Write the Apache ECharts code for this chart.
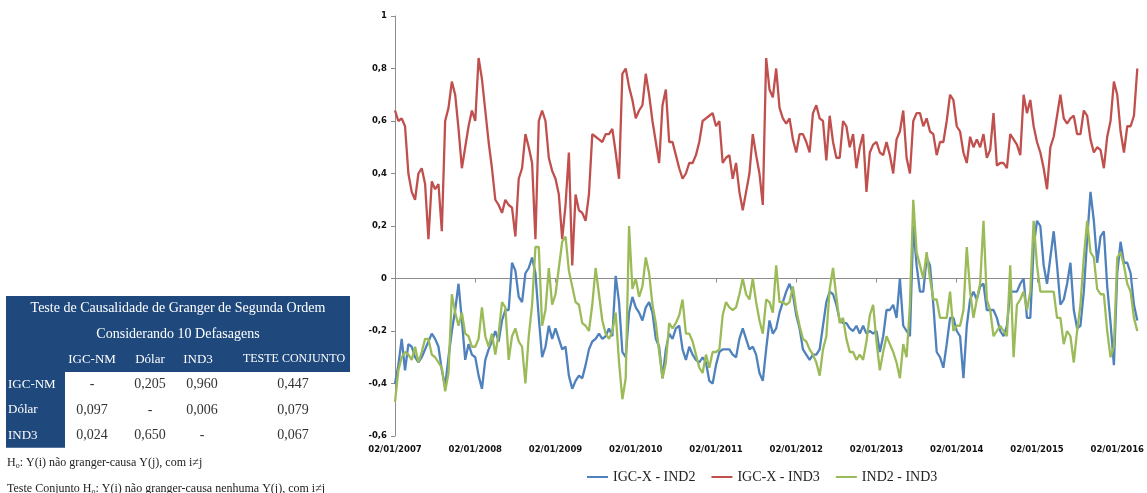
<!DOCTYPE html>
<html><head><meta charset="utf-8">
<script src="https://cdn.jsdelivr.net/npm/echarts@6/dist/echarts.min.js"></script>
<style>html,body{margin:0;padding:0;background:#fff}#c{width:1147px;height:493px}</style>
</head><body><div id="c"></div>
<script>
// ---- data ----
const tickLabels = ['02/01/2007','02/01/2008','02/01/2009','02/01/2010','02/01/2011','02/01/2012','02/01/2013','02/01/2014','02/01/2015','02/01/2016'];
const pointsPerYear = 24; // semi-monthly readings from the picture
const seriesNames = ['IGC-X - IND2', 'IGC-X - IND3', 'IND2 - IND3'];

const igcxInd2 = [
-0.40,-0.33,-0.23,-0.35,-0.25,-0.26,-0.30,-0.32,-0.30,-0.27,
-0.24,-0.21,-0.23,-0.26,-0.35,-0.41,-0.30,-0.20,-0.12,-0.02,
-0.16,-0.31,-0.25,-0.29,-0.30,-0.37,-0.42,-0.31,-0.27,-0.24,
-0.20,-0.24,-0.16,-0.12,-0.12,0.06,0.03,-0.07,-0.09,0.02,
0.04,0.08,0.02,-0.15,-0.30,-0.26,-0.18,-0.23,-0.19,-0.23,
-0.27,-0.26,-0.37,-0.42,-0.39,-0.37,-0.38,-0.33,-0.27,-0.24,
-0.23,-0.21,-0.23,-0.22,-0.19,-0.22,0.01,-0.09,-0.28,-0.30,
-0.13,-0.07,-0.11,-0.13,-0.16,-0.11,-0.09,-0.13,-0.23,-0.26,
-0.38,-0.27,-0.21,-0.23,-0.19,-0.18,-0.27,-0.31,-0.26,-0.29,
-0.31,-0.32,-0.30,-0.32,-0.39,-0.40,-0.33,-0.28,-0.27,-0.27,
-0.27,-0.29,-0.30,-0.23,-0.19,-0.23,-0.27,-0.26,-0.29,-0.36,
-0.39,-0.27,-0.16,-0.21,-0.19,-0.13,-0.09,-0.05,-0.02,-0.06,
-0.14,-0.19,-0.27,-0.29,-0.31,-0.29,-0.29,-0.27,-0.18,-0.09,
-0.05,-0.06,-0.10,-0.16,-0.17,-0.17,-0.19,-0.20,-0.18,-0.21,
-0.18,-0.21,-0.20,-0.21,-0.20,-0.28,-0.22,-0.12,-0.12,-0.10,
-0.15,0.00,-0.18,-0.20,-0.22,0.20,0.05,-0.05,-0.05,0.08,
0.05,-0.10,-0.28,-0.30,-0.34,-0.25,-0.15,-0.15,-0.20,-0.22,
-0.38,-0.18,-0.08,-0.05,-0.08,-0.03,-0.02,-0.12,-0.12,-0.12,
-0.15,-0.20,-0.22,-0.18,-0.05,-0.05,-0.05,-0.02,0.00,-0.15,
-0.15,0.12,0.22,0.20,0.05,-0.02,0.08,0.18,0.05,-0.10,
-0.08,-0.02,0.06,-0.12,-0.19,-0.18,-0.05,0.15,0.33,0.22,
0.06,0.16,0.18,-0.03,-0.17,-0.33,0.02,0.14,0.06,0.06,
0.02,-0.10,-0.16
];

const igcxInd3 = [
0.64,0.60,0.61,0.58,0.40,0.33,0.30,0.40,0.42,0.36,
0.15,0.37,0.34,0.36,0.18,0.60,0.65,0.75,0.70,0.57,
0.42,0.50,0.58,0.64,0.60,0.84,0.76,0.64,0.52,0.42,
0.30,0.28,0.25,0.30,0.28,0.27,0.16,0.38,0.42,0.55,
0.50,0.44,0.15,0.60,0.64,0.60,0.46,0.41,0.38,0.32,
0.15,0.28,0.48,0.05,0.32,0.26,0.25,0.22,0.32,0.55,
0.54,0.53,0.52,0.55,0.55,0.57,0.48,0.38,0.78,0.80,
0.73,0.68,0.61,0.64,0.66,0.78,0.70,0.60,0.52,0.44,
0.66,0.72,0.52,0.52,0.47,0.42,0.38,0.40,0.44,0.44,
0.47,0.52,0.60,0.61,0.62,0.63,0.58,0.60,0.44,0.46,
0.47,0.38,0.44,0.33,0.26,0.33,0.40,0.55,0.47,0.40,
0.28,0.84,0.72,0.69,0.80,0.65,0.61,0.59,0.61,0.53,
0.48,0.55,0.55,0.52,0.48,0.63,0.66,0.61,0.60,0.45,
0.62,0.52,0.46,0.46,0.60,0.58,0.50,0.55,0.42,0.50,
0.55,0.33,0.48,0.51,0.52,0.48,0.47,0.52,0.47,0.40,
0.53,0.56,0.64,0.46,0.40,0.60,0.63,0.63,0.58,0.61,
0.56,0.55,0.47,0.52,0.52,0.60,0.70,0.68,0.58,0.56,
0.48,0.44,0.54,0.50,0.53,0.50,0.55,0.46,0.49,0.63,
0.43,0.44,0.44,0.42,0.55,0.53,0.51,0.47,0.70,0.63,
0.68,0.58,0.52,0.48,0.42,0.34,0.50,0.54,0.62,0.70,
0.61,0.59,0.61,0.62,0.55,0.55,0.64,0.62,0.53,0.48,
0.50,0.49,0.42,0.54,0.60,0.75,0.70,0.56,0.48,0.58,
0.58,0.62,0.80
];

const ind2Ind3 = [
-0.47,-0.35,-0.30,-0.28,-0.29,-0.31,-0.26,-0.32,-0.28,-0.23,
-0.23,-0.29,-0.30,-0.32,-0.34,-0.43,-0.36,-0.06,-0.13,-0.18,
-0.13,-0.21,-0.22,-0.26,-0.26,-0.23,-0.11,-0.22,-0.26,-0.21,
-0.29,-0.21,-0.09,-0.11,-0.31,-0.22,-0.19,-0.24,-0.26,-0.40,
-0.22,-0.10,0.12,0.12,-0.18,-0.12,0.04,-0.10,-0.06,0.04,
0.14,0.16,0.03,-0.03,-0.09,-0.10,-0.17,-0.18,-0.20,-0.10,
0.04,-0.06,-0.16,-0.21,-0.23,-0.20,-0.13,-0.32,-0.46,-0.38,
0.20,-0.04,0.00,-0.07,-0.03,0.08,0.02,-0.10,-0.17,-0.28,
-0.38,-0.32,-0.17,-0.19,-0.17,-0.14,-0.08,-0.21,-0.21,-0.24,
-0.29,-0.34,-0.36,-0.29,-0.34,-0.28,-0.28,-0.27,-0.14,-0.09,
-0.11,-0.12,-0.11,-0.06,0.00,-0.06,-0.08,0.00,-0.09,-0.16,
-0.21,-0.08,-0.09,-0.13,0.05,-0.09,-0.09,-0.10,-0.09,-0.03,
-0.12,-0.18,-0.23,-0.24,-0.27,-0.29,-0.32,-0.37,-0.27,-0.22,
-0.04,0.04,-0.07,-0.17,-0.15,-0.23,-0.28,-0.28,-0.31,-0.29,
-0.31,-0.24,-0.14,-0.10,-0.24,-0.35,-0.28,-0.22,-0.25,-0.28,
-0.32,-0.38,-0.25,-0.30,-0.10,0.30,0.10,0.05,0.00,0.10,
0.00,-0.08,-0.08,-0.15,-0.15,-0.15,-0.05,-0.20,-0.18,-0.18,
-0.12,0.12,-0.05,-0.15,-0.08,-0.02,0.22,-0.08,-0.12,-0.22,
-0.20,-0.18,-0.20,-0.22,0.05,-0.30,-0.10,-0.08,-0.05,-0.12,
-0.05,0.22,0.05,-0.05,-0.05,-0.05,-0.05,-0.05,-0.15,-0.15,
-0.25,-0.20,-0.22,-0.32,-0.20,-0.10,0.08,0.22,0.10,0.08,
-0.04,-0.06,-0.06,-0.20,-0.30,-0.26,0.08,0.10,0.05,-0.02,
-0.05,-0.15,-0.20
];

const tableTitle = ['Teste de Causalidade de Granger de Segunda Ordem', 'Considerando 10 Defasagens'];
const tableHeader = ['IGC-NM', 'Dólar', 'IND3', 'TESTE CONJUNTO'];
const tableRows = [
  ['IGC-NM', '-', '0,205', '0,960', '0,447'],
  ['Dólar', '0,097', '-', '0,006', '0,079'],
  ['IND3', '0,024', '0,650', '-', '0,067']
];
const footnotes = [
  ['', ': Y(i) não granger-causa Y(j), com i≠j'],
  ['Teste Conjunto ', ': Y(i) não granger-causa nenhuma Y(j), com i≠j']
];

// ---- styles / layout ----
const colors = ['#4F81BD', '#C0504D', '#9BBB59'];
const navy = '#1F497D';
const serif = '"Liberation Serif", "DejaVu Serif", serif';
const tbl = { x: 6, y: 296, w: 344, rowH: 25.3, firstColW: 59 };
const headCols = [92, 150, 198, 294];
const headSizes = [13, 13, 13, 12];
const valCols = [92, 150, 202, 293];

const graphic = [];
graphic.push({ type: 'rect', shape: { x: tbl.x, y: tbl.y, width: tbl.w, height: tbl.rowH * 3 }, style: { fill: navy } });
graphic.push({ type: 'rect', shape: { x: tbl.x, y: tbl.y + tbl.rowH * 3, width: tbl.firstColW, height: tbl.rowH * 3 }, style: { fill: navy } });
tableTitle.forEach((t, k) => {
  graphic.push({ type: 'text', x: tbl.x + tbl.w / 2, y: tbl.y + tbl.rowH * (k + 0.5),
    style: { text: t, fill: '#fff', font: '14px ' + serif, align: 'center', verticalAlign: 'middle' } });
});
tableHeader.forEach((t, k) => {
  graphic.push({ type: 'text', x: headCols[k], y: tbl.y + tbl.rowH * 2.5,
    style: { text: t, fill: '#fff', font: headSizes[k] + 'px ' + serif, align: 'center', verticalAlign: 'middle' } });
});
tableRows.forEach((row, r) => {
  const cy = tbl.y + tbl.rowH * (3.5 + r);
  graphic.push({ type: 'text', x: tbl.x + 2, y: cy,
    style: { text: row[0], fill: '#fff', font: '13px ' + serif, align: 'left', verticalAlign: 'middle' } });
  row.slice(1).forEach((v, c) => {
    graphic.push({ type: 'text', x: valCols[c], y: cy,
      style: { text: v, fill: '#333', font: '14px ' + serif, align: 'center', verticalAlign: 'middle' } });
  });
});
footnotes.forEach((f, k) => {
  graphic.push({ type: 'text', x: 7, y: [463, 489][k],
    style: {
      text: '{a|' + f[0] + 'H}{s|o}{a|' + f[1] + '}',
      align: 'left', verticalAlign: 'middle',
      rich: {
        a: { fontFamily: serif, fontSize: 12, fill: '#222', color: '#222', lineHeight: 14 },
        s: { fontFamily: serif, fontSize: 8, fill: '#222', color: '#222', lineHeight: 14, padding: [5, 0, 0, 0] }
      }
    } });
});

const lastIdx = igcxInd3.length - 1;
const tickValues = tickLabels.map((_, k) => k * pointsPerYear);
const dataOf = arr => arr.map((v, i) => [i, v]);
const fmtNum = v => { const r = Math.round(v * 10) / 10; return String(r).replace('.', ','); };

const chart = echarts.init(document.getElementById('c'), null, { renderer: 'canvas' });
chart.setOption({
  animation: false,
  backgroundColor: '#fff',
  grid: { left: 395, right: 7, top: 16, height: 420 },
  legend: {
    data: seriesNames, left: 582, top: 465, icon: 'rect', itemWidth: 21, itemHeight: 2, itemGap: 16,
    textStyle: { fontFamily: serif, fontSize: 14, color: '#222' }
  },
  xAxis: [
    {
      type: 'value', min: 0, max: lastIdx, position: 'bottom',
      axisLine: { show: false, onZero: false }, axisTick: { show: false }, splitLine: { show: false },
      axisLabel: {
        customValues: tickValues, margin: 9,
        formatter: v => tickLabels[Math.round(v / pointsPerYear)] || '',
        fontFamily: '"DejaVu Sans", sans-serif', fontWeight: 'bold', fontSize: 8.5, color: '#111'
      }
    },
    {
      type: 'value', min: 0, max: lastIdx, position: 'bottom',
      axisLine: { show: true, onZero: true, lineStyle: { color: '#8c8c8c', width: 1 } },
      axisTick: { show: true, customValues: tickValues, length: 4, lineStyle: { color: '#8c8c8c' } },
      axisLabel: { show: false }, splitLine: { show: false }
    }
  ],
  yAxis: {
    type: 'value', min: -0.6, max: 1, interval: 0.2,
    axisLine: { show: true, lineStyle: { color: '#8c8c8c' } },
    axisTick: { show: true, length: 4, lineStyle: { color: '#8c8c8c' } },
    splitLine: { show: false },
    axisLabel: { formatter: fmtNum, margin: 8, fontFamily: '"DejaVu Sans", sans-serif', fontWeight: 'bold', fontSize: 8.5, color: '#111' }
  },
  series: [igcxInd2, igcxInd3, ind2Ind3].map((arr, k) => ({
    name: seriesNames[k], type: 'line', data: dataOf(arr), xAxisIndex: 0,
    showSymbol: false, symbol: 'none', color: colors[k],
    lineStyle: { width: 2.3, color: colors[k] }
  })),
  graphic: graphic
});
</script>
</body></html>
